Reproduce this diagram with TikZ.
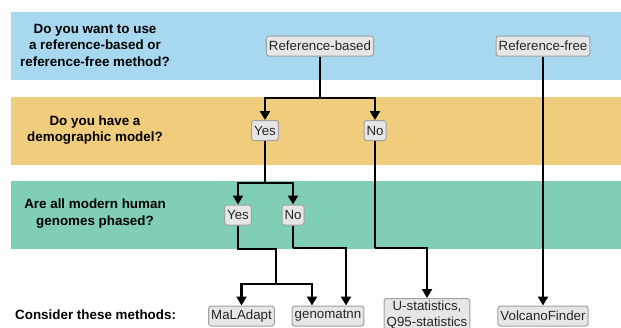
\documentclass[tikz,border=0pt]{standalone}
\usepackage{fontspec}
\setmainfont{Liberation Sans}
\usepackage{tikz}
\usetikzlibrary{positioning,calc}
\usetikzlibrary{arrows.meta}
\definecolor{BandBlue}{RGB}{168,216,240}
\definecolor{BandGold}{RGB}{240,205,125}
\definecolor{BandGreen}{RGB}{128,206,184}
\definecolor{ChoiceGray}{RGB}{230,230,230}
\definecolor{ChoiceLine}{RGB}{160,160,160}
\tikzset{
  question/.style={align=center,font=\fontsize{13.4}{16.5}\selectfont\bfseries,inner sep=0pt},
  choice/.style={draw=ChoiceLine,fill=ChoiceGray,rounded corners=2.5pt,line width=1pt,
    inner xsep=2.5pt,inner ysep=0pt,minimum height=20pt,align=center,
    font=\fontsize{13.3}{16}\selectfont,text=black!85},
  link/.style={draw=black,line width=2.7pt},
  arrow/.style={link,-{Triangle[width=10pt,length=9pt]}},
}

\begin{document}
\begin{tikzpicture}[x=1pt,y=-1pt]
\useasboundingbox (0,0) rectangle (621,327);
\fill[BandBlue] (11,12) rectangle (621,80);
\fill[BandGold] (11,97) rectangle (621,165);
\fill[BandGreen] (11,181) rectangle (621,249);
\node[question] (qref) at (95,45) {Do you want to use\\a reference-based or\\reference-free method?};
\node[question] (qdemo) at (95,130) {Do you have a\\demographic model?};
\node[question] (qphase) at (95,213.5) {Are all modern human\\genomes phased?};
\node[question,anchor=west] (qmethods) at (15,315) {Consider these methods:};
\node[choice] (refbased) at (320,46) {Reference-based};
\node[choice] (reffree) at (543,46) {Reference-free};
\node[choice] (yesdemo) at (265,130.5) {Yes};
\node[choice] (nodemo) at (375,130.5) {No};
\node[choice] (yesphase) at (238,215) {Yes};
\node[choice] (nophase) at (293,215) {No};
\node[choice] (maladapt) at (241.5,316) {MaLAdapt};
\node[choice] (genomatnn) at (328,316) {genomatnn};
\node[choice,anchor=north,inner ysep=2pt] (ustats) at (427,298) {U-statistics,\\Q95-statistics};
\node[choice] (volcano) at (543,316) {VolcanoFinder};
\coordinate (j1) at (320,98);
\coordinate (j2) at (265,183);
\coordinate (j3) at (238,249);
\coordinate (j4) at (276,249);
\coordinate (j5) at (276,284);
\coordinate (j6) at (293,248);
\coordinate (j7) at (375,248);
\draw[link] (refbased) -- (j1);
\draw[arrow] (j1) -| (yesdemo);
\draw[arrow] (j1) -| (nodemo);
\draw[link] (yesdemo) -- (j2);
\draw[arrow] (j2) -| (yesphase);
\draw[arrow] (j2) -| (nophase);
\draw[link] (yesphase) -- (j3) -- (j4) -- (j5);
\draw[arrow] (j5) -| (maladapt);
\draw[arrow] (j5) -| ([xshift=-16pt]genomatnn.north);
\draw[link] (nophase) -- (j6);
\draw[arrow] (j6) -| ([xshift=18pt]genomatnn.north);
\draw[link] (nodemo) -- (j7);
\draw[arrow] (j7) -| (ustats);
\draw[arrow] (reffree) -- (volcano);
\end{tikzpicture}
\end{document}
